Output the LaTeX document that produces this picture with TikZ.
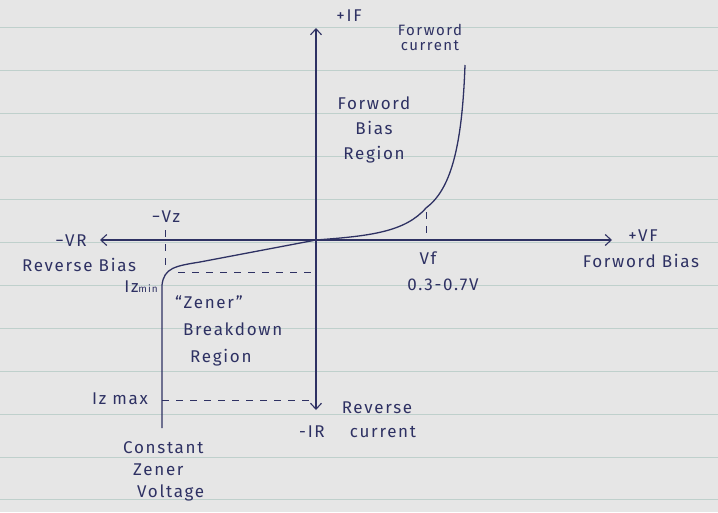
\documentclass[tikz,border=0pt]{standalone}
\usepackage{fontspec}
\setmainfont{Fira Sans}[LetterSpace=10]
\usetikzlibrary{arrows.meta}
\definecolor{ink}{HTML}{2E3163}
\definecolor{paper}{HTML}{E6E6E6}
\definecolor{rule}{HTML}{BFD0CC}
\tikzset{
  lbl/.style={text=ink, font=\fontsize{17}{25}\selectfont, inner sep=1pt, align=center},
  small/.style={font=\fontsize{15}{15}\selectfont},
  axisline/.style={draw=ink, line width=1.1pt, -{Straight Barb[length=6pt,width=11pt]}},
  guide/.style={draw=ink, line width=0.9pt, dash pattern=on 7pt off 7pt},
  curve/.style={draw=ink, line width=1.3pt, line join=round}
}
\begin{document}
\begin{tikzpicture}[x=1pt,y=-1pt]
\fill[paper] (0,0) rectangle (718,512);
\useasboundingbox (0,0) rectangle (718,512);
\foreach \yy in {27,70,113,156,199,242,285,328,371,414,457,499}
  \draw[rule, line width=0.8pt] (0,\yy) -- (718,\yy);

% axes
\coordinate (O) at (316,240);
\coordinate (ytop) at (316,28);
\coordinate (ybot) at (316,410);
\coordinate (xleft) at (100,240);
\coordinate (xright) at (612,240);
\draw[axisline] (O) -- (ytop);
\draw[axisline] (O) -- (ybot);
\draw[axisline] (O) -- (xleft);
\draw[axisline] (O) -- (xright);

% characteristic curve
\coordinate (ftop) at (465,65);
\coordinate (knee) at (426,208);
\coordinate (zbot) at (162,428);
\draw[curve] (ftop) .. controls (462,150) and (450,190) .. (knee)
  .. controls (405,232) and (370,236) .. (O)
  -- (200,262) .. controls (175,266) and (164,268) .. (162,285) -- (zbot);

% guides
\coordinate (vzt) at (165,230);
\coordinate (vzb) at (165,268);
\draw[guide] (vzt) -- (vzb);
\coordinate (vft) at (426,212);
\coordinate (vfb) at (426,240);
\draw[guide] (vft) -- (vfb);
\coordinate (izminL) at (178,272);
\coordinate (izminR) at (312,272);
\draw[guide] (izminL) -- (izminR);
\coordinate (izmaxL) at (162,400);
\coordinate (izmaxR) at (312,400);
\draw[guide] (izmaxL) -- (izmaxR);

% labels
\node[lbl] (pif) at (349,16) {+IF};
\node[lbl, small] (fcur) at (430,37) {Forword\\current};
\node[lbl] (fbr) at (374,130) {Forword\\Bias\\Region};
\node[lbl] (mvr) at (71,241) {−VR};
\node[lbl] (rb) at (79,265) {Reverse Bias};
\node[lbl] (mvz) at (166,217) {−Vz};
\node[lbl] (izmin) at (141,287) {Iz{\fontsize{10}{10}\selectfont min}};
\node[lbl, font=\fontsize{17}{27}\selectfont, align=left, anchor=north west] (zbr) at (174,294) {“Zener”\\\hspace*{8pt}Breakdown\\\hspace*{15pt}Region};
\node[lbl] (izmax) at (120,399) {Iz max};
\node[lbl] (rev) at (377,408) {Reverse};
\node[lbl] (mir) at (312,432) {-IR};
\node[lbl] (cur) at (383,432) {current};
\node[lbl, font=\fontsize{17}{22}\selectfont, align=left, anchor=north west] (czv) at (122,440) {Constant\\\hspace*{10pt}Zener\\\hspace*{14pt}Voltage};
\node[lbl] (vf) at (428,258) {Vf};
\node[lbl] (rng) at (443,285) {0.3-0.7V};
\node[lbl] (pvf) at (643,236) {+VF};
\node[lbl] (fb) at (641,261) {Forword Bias};
\end{tikzpicture}
\end{document}
